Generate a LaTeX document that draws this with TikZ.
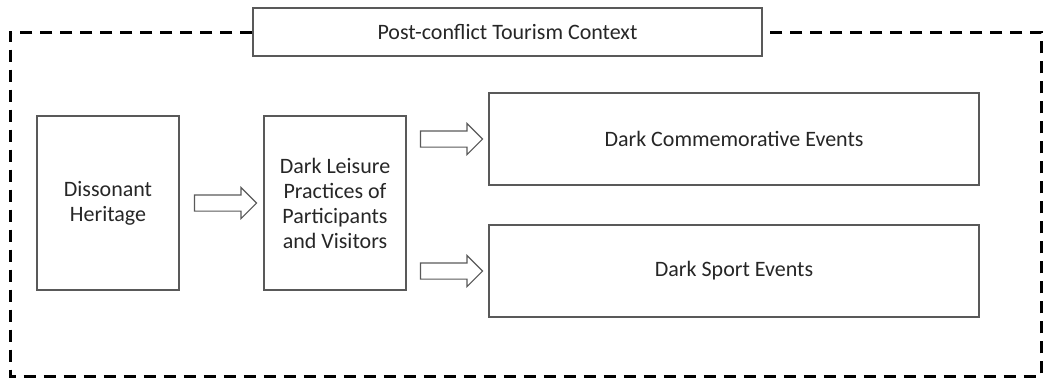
\documentclass[tikz,border=0pt]{standalone}
\usepackage{fontspec}
\setmainfont{Carlito}
\usepackage{xcolor}
\usepackage{tikz}
\usetikzlibrary{shapes.arrows,calc}
\definecolor{boxgray}{HTML}{595959}
\definecolor{txtgray}{HTML}{262626}

\begin{document}
\begin{tikzpicture}[x = 1pt, y = -1pt,
	box/.style = {draw = boxgray, line width = 1.3pt, text = txtgray, align = center, inner sep = 0pt, font = \fontsize{22}{25}\selectfont},
	blockarrow/.style = {single arrow, draw = boxgray, line width = 1.1pt, inner xsep = 0pt, inner ysep = 7.5pt, minimum height = 62pt, single arrow head extend = 7.5pt}]
	\useasboundingbox (0,0) rectangle (1044,378);

	\node [box, minimum width = 509pt, minimum height = 48pt] (ctx) at (507.5,32) {Post-conflict Tourism Context};
	\draw [line width = 3pt, dash pattern = on 12pt off 8pt](ctx.west) -- (10,32) -- (10,376) -- (1041,376) -- (1041,32) -- (ctx.east);

	\node [box, minimum width = 142pt, minimum height = 174pt] (dis) at (108,203) {Dissonant\\Heritage};
	\node [box, minimum width = 142pt, minimum height = 174pt] (dlp) at (335,203) {Dark Leisure\\Practices of\\Participants\\and Visitors};

	\node [box, minimum width = 490pt, minimum height = 92pt] (dce) at (734,139) {Dark Commemorative Events};
	\node [box, minimum width = 490pt, minimum height = 92pt] (dse) at (734,271) {Dark Sport Events};

	\node [blockarrow] (a1) at ($(dis.east)!0.5!(dlp.west)$) {};
	\node [blockarrow] (a2) at ($(dlp.east |- dce)!0.5!(dce.west)$) {};
	\node [blockarrow] (a3) at ($(dlp.east |- dse)!0.5!(dse.west)$) {};
\end{tikzpicture}
\end{document}
